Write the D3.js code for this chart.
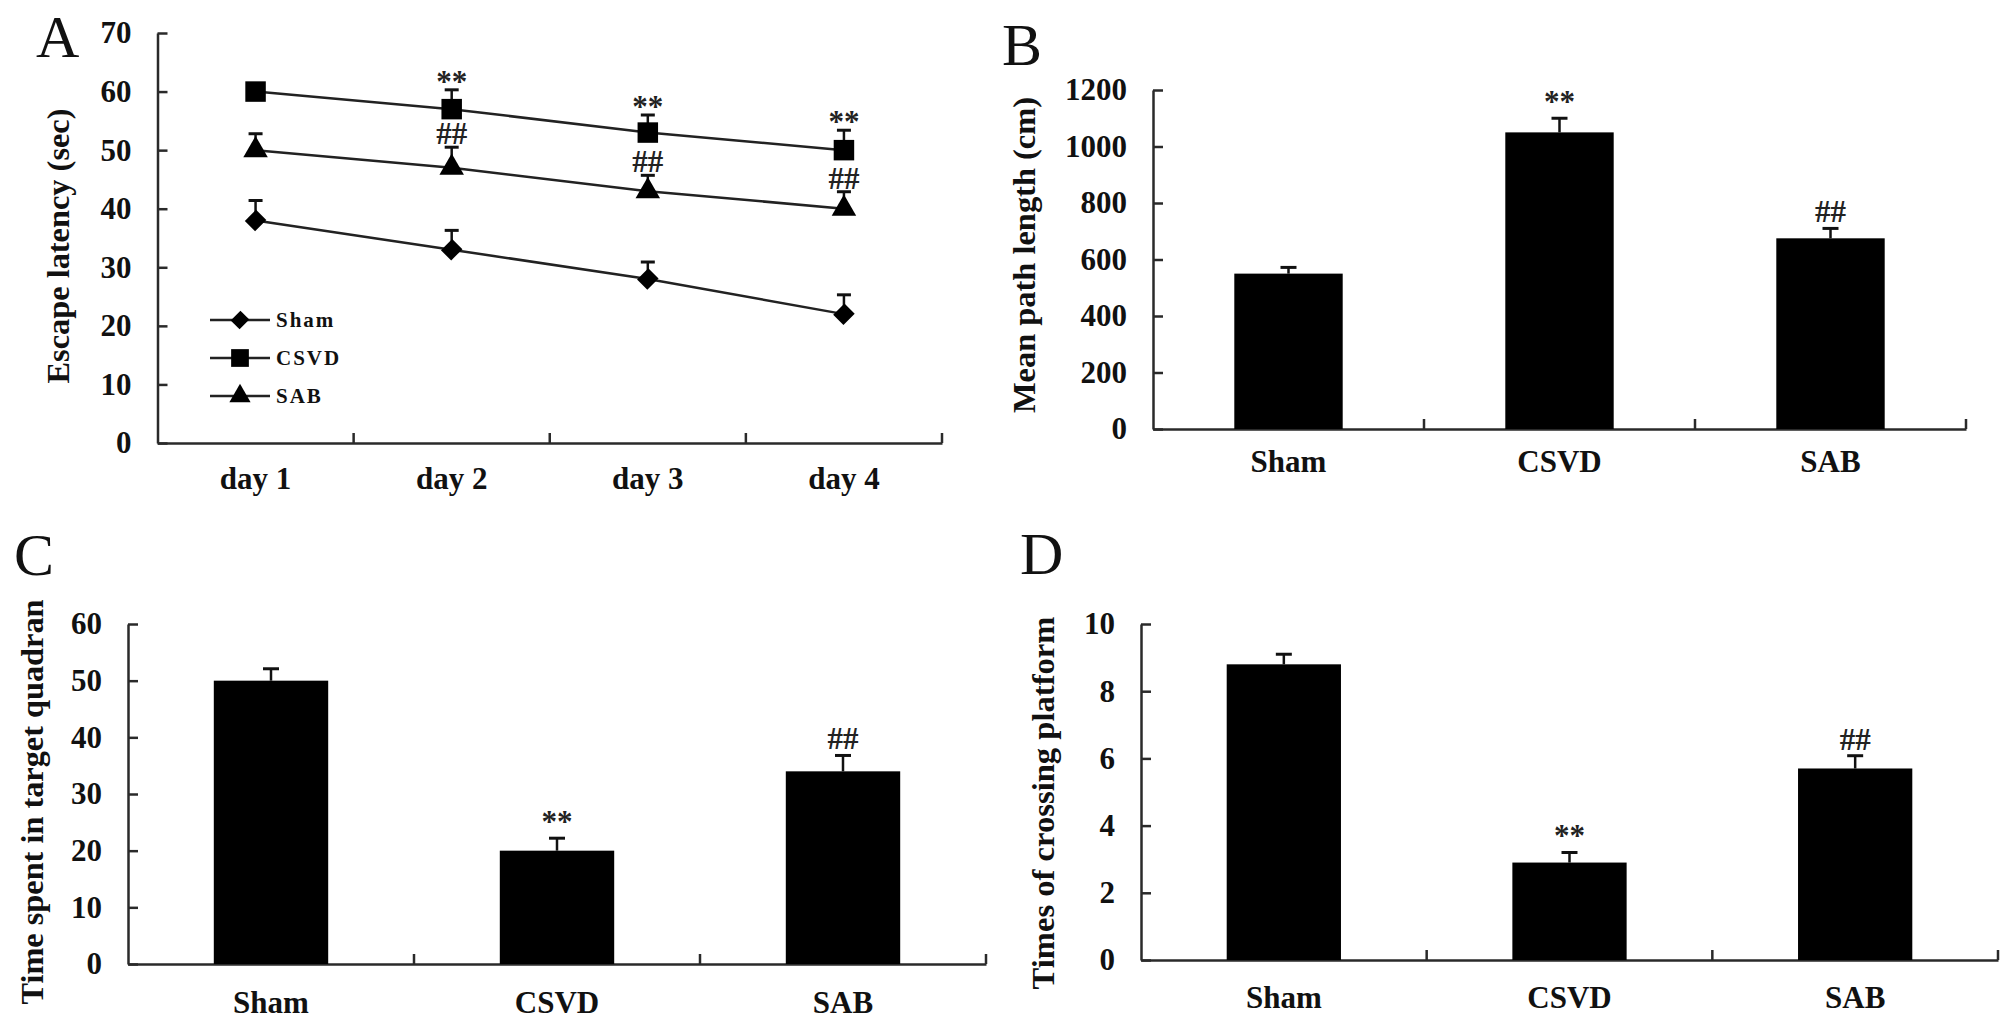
<!DOCTYPE html>
<html>
<head>
<meta charset="utf-8">
<script src="https://cdn.jsdelivr.net/npm/d3@7"></script>
<style>
    body { margin: 0; background: #fff; }
    svg { display: block; }
    .axis path, .axis line { stroke: #2a2a2a; stroke-width: 2.5px; }
    .axis text { font-family: 'Liberation Serif', 'Times New Roman', serif; font-weight: bold; font-size: 31px; fill: #111; }
    .title { font-family: 'Liberation Serif', 'Times New Roman', serif; font-weight: bold; font-size: 31px; fill: #111; }
    .panel-letter { font-family: 'Liberation Serif', 'Times New Roman', serif; font-size: 60px; fill: #111; }
    .sig { font-family: 'Liberation Serif', 'Times New Roman', serif; font-weight: bold; font-size: 31px; fill: #222; }
    .legend text { font-family: 'Liberation Serif', 'Times New Roman', serif; font-weight: bold; font-size: 21px; letter-spacing: 2px; fill: #111; }
</style>
</head>
<body>
<div id="chart"></div>
<script>
// categories
const days = ['day 1', 'day 2', 'day 3', 'day 4'];
const groups = ['Sham', 'CSVD', 'SAB'];

// panel A: escape latency (sec), mean and error
const shamLatency = [38, 33, 28, 22];
const shamLatencyErr = [3.4, 3.3, 2.9, 3.3];
const csvdLatency = [60, 57, 53, 50];
const csvdLatencyErr = [1.2, 3.3, 3.0, 3.4];
const sabLatency = [50, 47, 43, 40];
const sabLatencyErr = [2.8, 3.5, 2.7, 2.9];
const csvdLatencySig = ['', '**', '**', '**'];
const sabLatencySig = ['', '##', '##', '##'];
const latencyTicks = [0, 10, 20, 30, 40, 50, 60, 70];

// panel B: mean path length (cm)
const pathLength = [550, 1050, 675];
const pathLengthErr = [22, 50, 35];
const pathTicks = [0, 200, 400, 600, 800, 1000, 1200];

// panel C: time spent in target quadrant
const quadrantTime = [50, 20, 34];
const quadrantTimeErr = [2.1, 2.2, 2.8];
const quadrantTicks = [0, 10, 20, 30, 40, 50, 60];

// panel D: times of crossing platform
const crossings = [8.8, 2.9, 5.7];
const crossingsErr = [0.3, 0.3, 0.38];
const crossingTicks = [0, 2, 4, 6, 8, 10];

const barSig = ['', '**', '##'];

const W = 2016, H = 1031;
const svg = d3.select('#chart').append('svg')
    .attr('width', W)
    .attr('height', H);

// axes shared by every panel: inward ticks, band ticks at the boundaries
function drawAxes(p, cats) {
    const x = d3.scaleBand().domain(cats).range([p.left, p.right]);
    const y = d3.scaleLinear().domain([0, p.max]).range([p.bottom, p.top]);

    const xAxis = svg.append('g')
        .attr('class', 'axis')
        .attr('transform', `translate(0,${p.bottom})`)
        .call(d3.axisBottom(x).tickSize(0).tickPadding(p.labelPad));
    xAxis.selectAll('text').attr('font-family', null).attr('font-size', null);

    xAxis.selectAll('.bound')
        .data(cats)
        .enter()
        .append('line')
        .attr('class', 'bound')
        .attr('x1', d => x(d) + x.step())
        .attr('x2', d => x(d) + x.step())
        .attr('y1', 0)
        .attr('y2', -10);

    const yAxis = svg.append('g')
        .attr('class', 'axis')
        .attr('transform', `translate(${p.left},0)`)
        .call(d3.axisLeft(y)
            .tickValues(p.ticks)
            .tickFormat(d3.format('d'))
            .tickSizeInner(-10)
            .tickSizeOuter(0)
            .tickPadding(26));
    yAxis.selectAll('text').attr('font-family', null).attr('font-size', null);

    svg.append('text')
        .attr('class', 'title')
        .attr('text-anchor', 'middle')
        .attr('dominant-baseline', 'central')
        .attr('transform', `translate(${p.titleX},${p.titleY}) rotate(-90)`)
        .attr('textLength', p.titleLen)
        .attr('lengthAdjust', 'spacingAndGlyphs')
        .text(p.title);

    svg.append('text')
        .attr('class', 'panel-letter')
        .attr('x', p.letterX)
        .attr('y', p.letterY)
        .text(p.letter);

    return { x, y };
}

function drawBars(p, values, errs) {
    const { x, y } = drawAxes(p, groups);
    const bw = x.bandwidth() * 0.4;
    const cx = d => x(d) + x.bandwidth() / 2;

    const rows = groups.map((g, i) => ({ g, v: values[i], e: errs[i], s: barSig[i] }));

    svg.selectAll(null)
        .data(rows)
        .enter()
        .append('line')
        .attr('x1', d => cx(d.g))
        .attr('x2', d => cx(d.g))
        .attr('y1', d => y(d.v))
        .attr('y2', d => y(d.v + d.e))
        .attr('stroke', '#111')
        .attr('stroke-width', 2.5);

    svg.selectAll(null)
        .data(rows)
        .enter()
        .append('line')
        .attr('x1', d => cx(d.g) - 8)
        .attr('x2', d => cx(d.g) + 8)
        .attr('y1', d => y(d.v + d.e))
        .attr('y2', d => y(d.v + d.e))
        .attr('stroke', '#111')
        .attr('stroke-width', 3);

    svg.selectAll(null)
        .data(rows)
        .enter()
        .append('rect')
        .attr('x', d => cx(d.g) - bw / 2)
        .attr('y', d => y(d.v))
        .attr('width', bw)
        .attr('height', d => y(0) - y(d.v))
        .attr('fill', '#000');

    svg.selectAll(null)
        .data(rows.filter(d => d.s))
        .enter()
        .append('text')
        .attr('class', 'sig')
        .attr('text-anchor', 'middle')
        .attr('x', d => cx(d.g))
        .attr('y', d => y(d.v + d.e) - 6)
        .text(d => d.s);
}

// ---- panel A: line chart ----
const pA = {
    left: 157.5, right: 942, top: 33, bottom: 443, max: 70, ticks: latencyTicks,
    labelPad: 24, title: 'Escape latency (sec)', titleX: 58, titleY: 246, titleLen: 275,
    letter: 'A', letterX: 36, letterY: 57
};
const A = drawAxes(pA, days);
const dayX = d => A.x(d) + A.x.bandwidth() / 2;

const series = [
    { name: 'Sham', v: shamLatency, e: shamLatencyErr, shape: 'diamond' },
    { name: 'CSVD', v: csvdLatency, e: csvdLatencyErr, shape: 'square' },
    { name: 'SAB', v: sabLatency, e: sabLatencyErr, shape: 'triangle' }
];

function marker(shape, scale) {
    if (shape === 'square') return d3.symbol(d3.symbolSquare, 420 * scale)();
    if (shape === 'triangle') return d3.symbol(d3.symbolTriangle, 260 * scale)();
    return d3.symbol(d3.symbolSquare, 210 * scale)();
}

const line = d3.line()
    .x(d => dayX(d.day))
    .y(d => A.y(d.v));

series.forEach(s => {
    const pts = days.map((day, i) => ({ day, v: s.v[i], e: s.e[i] }));

    svg.selectAll(null)
        .data(pts)
        .enter()
        .append('line')
        .attr('x1', d => dayX(d.day))
        .attr('x2', d => dayX(d.day))
        .attr('y1', d => A.y(d.v))
        .attr('y2', d => A.y(d.v + d.e))
        .attr('stroke', '#111')
        .attr('stroke-width', 2.5);

    svg.selectAll(null)
        .data(pts)
        .enter()
        .append('line')
        .attr('x1', d => dayX(d.day) - 7)
        .attr('x2', d => dayX(d.day) + 7)
        .attr('y1', d => A.y(d.v + d.e))
        .attr('y2', d => A.y(d.v + d.e))
        .attr('stroke', '#111')
        .attr('stroke-width', 3);

    svg.append('path')
        .datum(pts)
        .attr('fill', 'none')
        .attr('stroke', '#222')
        .attr('stroke-width', 2.5)
        .attr('d', line);

    svg.selectAll(null)
        .data(pts)
        .enter()
        .append('path')
        .attr('d', marker(s.shape, 1))
        .attr('transform', d => `translate(${dayX(d.day)},${A.y(d.v)})` + (s.shape === 'diamond' ? ' rotate(45) scale(1,1.1)' : ''))
        .attr('fill', '#000');
});

// significance marks: ** above CSVD, ## above SAB
days.forEach((day, i) => {
    if (csvdLatencySig[i]) {
        svg.append('text')
            .attr('class', 'sig')
            .attr('text-anchor', 'middle')
            .attr('x', dayX(day))
            .attr('y', A.y(csvdLatency[i] + csvdLatencyErr[i]) + 2)
            .text(csvdLatencySig[i]);
    }
    if (sabLatencySig[i]) {
        svg.append('text')
            .attr('class', 'sig')
            .attr('text-anchor', 'middle')
            .attr('x', dayX(day))
            .attr('y', A.y(sabLatency[i] + sabLatencyErr[i]) - 3)
            .text(sabLatencySig[i]);
    }
});

// legend
const legend = svg.append('g').attr('class', 'legend');
series.forEach((s, i) => {
    const ly = 320 + i * 38;
    legend.append('line')
        .attr('x1', 210).attr('x2', 270)
        .attr('y1', ly).attr('y2', ly)
        .attr('stroke', '#222')
        .attr('stroke-width', 2.5);
    legend.append('path')
        .attr('d', marker(s.shape, 0.75))
        .attr('transform', `translate(240,${ly})` + (s.shape === 'diamond' ? ' rotate(45) scale(1,1.1)' : ''))
        .attr('fill', '#000');
    legend.append('text')
        .attr('x', 276)
        .attr('y', ly)
        .attr('dy', '0.35em')
        .text(s.name);
});

// ---- panel B ----
drawBars({
    left: 1153, right: 1966, top: 90, bottom: 429, max: 1200, ticks: pathTicks,
    labelPad: 21, title: 'Mean path length (cm)', titleX: 1024, titleY: 255, titleLen: 316,
    letter: 'B', letterX: 1002, letterY: 65
}, pathLength, pathLengthErr);

// ---- panel C ----
drawBars({
    left: 128, right: 986, top: 624, bottom: 964, max: 60, ticks: quadrantTicks,
    labelPad: 27, title: 'Time spent in target quadran', titleX: 32, titleY: 802, titleLen: 405,
    letter: 'C', letterX: 14, letterY: 575
}, quadrantTime, quadrantTimeErr);

// ---- panel D ----
drawBars({
    left: 1141, right: 1998, top: 624, bottom: 960, max: 10, ticks: crossingTicks,
    labelPad: 26, title: 'Times of crossing platform', titleX: 1043, titleY: 803, titleLen: 373,
    letter: 'D', letterX: 1020, letterY: 574
}, crossings, crossingsErr);
</script>
</body>
</html>
